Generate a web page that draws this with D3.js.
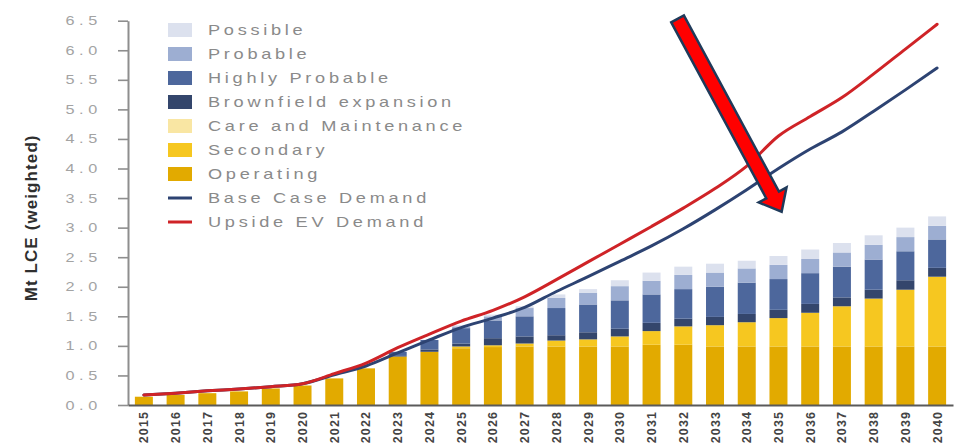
<!DOCTYPE html>
<html>
<head>
<meta charset="utf-8">
<script src="https://cdn.jsdelivr.net/npm/d3@7"></script>
<style>
  html, body { margin: 0; padding: 0; background: #ffffff; }
  svg { display: block; font-family: "Liberation Sans", Arial, sans-serif; }
</style>
</head>
<body>
<svg id="chart" width="961" height="446"></svg>
<script>
// Lithium supply pipeline vs demand, Mt LCE (weighted)
const years = ["2015","2016","2017","2018","2019","2020","2021","2022","2023","2024","2025","2026","2027",
               "2028","2029","2030","2031","2032","2033","2034","2035","2036","2037","2038","2039","2040"];

// supply segments, stacked bottom to top
const operating   = [0.14,0.17,0.20,0.23,0.28,0.33,0.45,0.62,0.82,0.90,0.96,0.98,0.99,0.99,0.99,0.99,1.02,1.02,0.99,0.99,0.99,0.99,0.99,0.99,0.99,0.99];
const secondary   = [0,0,0,0,0,0,0,0,0,0,0.03,0.03,0.05,0.10,0.12,0.17,0.23,0.31,0.36,0.41,0.48,0.57,0.68,0.81,0.96,1.18];
const careMaint   = [0,0,0,0,0,0,0,0,0,0,0,0,0,0,0,0,0,0,0,0,0,0,0,0,0,0];
const brownfield  = [0,0,0,0,0,0,0,0,0.01,0.04,0.05,0.12,0.12,0.09,0.12,0.13,0.14,0.13,0.14,0.14,0.14,0.15,0.15,0.15,0.16,0.15];
const highlyProb  = [0,0,0,0,0,0,0,0,0.07,0.16,0.26,0.30,0.34,0.46,0.47,0.48,0.48,0.50,0.51,0.53,0.52,0.52,0.52,0.51,0.49,0.48];
const probable    = [0,0,0,0,0,0,0,0,0,0,0.03,0.07,0.14,0.17,0.20,0.24,0.23,0.24,0.24,0.24,0.24,0.24,0.24,0.25,0.24,0.23];
const possible    = [0,0,0,0,0,0,0,0,0,0,0.02,0.03,0.03,0.06,0.06,0.10,0.14,0.14,0.15,0.13,0.15,0.16,0.16,0.16,0.16,0.16];

// demand scenarios
const baseDemand   = [0.17,0.20,0.24,0.27,0.31,0.36,0.51,0.66,0.88,1.10,1.31,1.47,1.65,1.92,2.17,2.43,2.69,2.98,3.30,3.64,4.00,4.33,4.62,4.97,5.33,5.70];
const upsideDemand = [0.17,0.20,0.24,0.27,0.31,0.36,0.53,0.71,0.97,1.20,1.42,1.60,1.83,2.12,2.42,2.72,3.02,3.33,3.66,4.04,4.55,4.88,5.20,5.60,6.02,6.44];

const yTicks = [0,0.5,1,1.5,2,2.5,3,3.5,4,4.5,5,5.5,6,6.5];

const seriesNames  = ["Operating","Secondary","Care and Maintenance","Brownfield expansion","Highly Probable","Probable","Possible"];
const seriesValues = [operating, secondary, careMaint, brownfield, highlyProb, probable, possible];
const seriesColors = ["#e2aa00","#f6c720","#f9e6a3","#34466c","#4d679c","#9daed2","#dce1ee"];

const lineNames  = ["Base Case Demand","Upside EV Demand"];
const lineValues = [baseDemand, upsideDemand];
const lineColors = ["#2d4372","#cf2327"];

// callout arrow: tail and tip in (year, Mt LCE)
const arrowTail = [2031.82, 6.53];
const arrowTip  = [2035.10, 3.27];

// ---------------------------------------------------------------
const svg = d3.select("#chart");
const plotLeft = 128, plotRight = 953, plotTop = 20.7, plotBottom = 405;

const x = d3.scaleBand().domain(years).range([plotLeft, plotRight]).paddingInner(0.433).paddingOuter(0.217);
const y = d3.scaleLinear().domain([0, 6.5]).range([plotBottom, plotTop]);
const bw = x.bandwidth();
const cx = d => x(d) + bw / 2;
const xYear = d3.scaleLinear().domain([+years[0], +years[years.length - 1]])
  .range([cx(years[0]), cx(years[years.length - 1])]);

// stacked bars
const rows = years.map((yr, i) => {
  const r = { year: yr };
  seriesNames.forEach((n, k) => r[n] = seriesValues[k][i]);
  return r;
});
const stacked = d3.stack().keys(seriesNames)(rows);

svg.append("g").selectAll("g")
  .data(stacked)
  .join("g")
  .attr("fill", (d, k) => seriesColors[k])
  .selectAll("rect")
  .data(d => d.filter(p => p[1] - p[0] > 0))
  .join("rect")
  .attr("x", p => x(p.data.year))
  .attr("width", bw)
  .attr("y", p => y(p[1]))
  .attr("height", p => y(p[0]) - y(p[1]));

// y axis
const yAxis = svg.append("g")
  .attr("transform", `translate(${plotLeft},0)`)
  .call(d3.axisLeft(y).tickValues(yTicks).tickFormat(d3.format(".1f")).tickSize(10).tickSizeOuter(0));
yAxis.select(".domain").attr("stroke", "#8e8e8e").attr("stroke-width", 2);
yAxis.selectAll(".tick line").attr("stroke", "#8e8e8e").attr("stroke-width", 1.6);
yAxis.selectAll(".tick text")
  .attr("x", 0)
  .attr("transform", "translate(-26,0) scale(1.3,1)")
  .attr("fill", "#a3a3a3")
  .style("font-size", "12.5px")
  .style("letter-spacing", "3.6px")
  .style("font-family", "'Liberation Sans', Arial, sans-serif");

// x axis
const xAxis = svg.append("g")
  .attr("transform", `translate(0,${plotBottom})`)
  .call(d3.axisBottom(x).tickSize(0).tickSizeOuter(0));
xAxis.select(".domain").attr("stroke", "#5a5a5a").attr("stroke-width", 2);
xAxis.selectAll(".tick text")
  .attr("transform", "rotate(-90)")
  .attr("x", -6)
  .attr("y", 0)
  .attr("dy", "0.36em")
  .attr("text-anchor", "end")
  .attr("fill", "#444444")
  .style("font-size", "12.5px")
  .style("font-weight", "bold")
  .style("letter-spacing", "1.1px")
  .style("font-family", "'Liberation Sans', Arial, sans-serif");

// demand lines
const line = d3.line().x((v, i) => cx(years[i])).y(v => y(v)).curve(d3.curveMonotoneX);
lineValues.forEach((vals, k) => {
  svg.append("path")
    .attr("d", line(vals))
    .attr("fill", "none")
    .attr("stroke", lineColors[k])
    .attr("stroke-width", 3)
    .attr("stroke-linecap", "round")
    .attr("stroke-linejoin", "round");
});

// y-axis title
svg.append("text")
  .attr("transform", `translate(37,${(plotTop + plotBottom) / 2 + 5}) rotate(-90)`)
  .attr("text-anchor", "middle")
  .attr("fill", "#2f2f2f")
  .style("font-size", "17px")
  .style("font-weight", "bold")
  .style("letter-spacing", "1.1px")
  .text("Mt LCE (weighted)");

// legend
const legendItems = [
  ...seriesNames.map((n, k) => ({ name: n, color: seriesColors[k], kind: "box" })).reverse(),
  ...lineNames.map((n, k) => ({ name: n, color: lineColors[k], kind: "line" }))
];
const legend = svg.append("g").attr("transform", "translate(168,30)");
legendItems.forEach((it, i) => {
  const g = legend.append("g").attr("transform", `translate(0,${i * 24})`);
  if (it.kind === "box") {
    g.append("rect").attr("x", 0).attr("y", -7).attr("width", 24).attr("height", 14).attr("fill", it.color);
  } else {
    g.append("rect").attr("x", 0).attr("y", -1.5).attr("width", 24).attr("height", 3).attr("fill", it.color);
  }
  g.append("text")
    .attr("transform", "translate(40,0) scale(1.3,1)")
    .attr("dy", "0.36em")
    .attr("fill", "#8a8a8a")
    .style("font-size", "14px")
    .style("letter-spacing", "2.85px")
    .text(it.name);
});

// callout arrow
(function drawArrow() {
  const p0 = [xYear(arrowTail[0]), y(arrowTail[1])];
  const p1 = [xYear(arrowTip[0]), y(arrowTip[1])];
  const dx = p1[0] - p0[0], dy = p1[1] - p0[1];
  const len = Math.hypot(dx, dy);
  const u = [dx / len, dy / len];
  const n = [-u[1], u[0]];
  const shaftHalf = 7.2, headHalf = 15.8, headLen = 19;
  const b = [p1[0] - u[0] * headLen, p1[1] - u[1] * headLen];
  const pt = (base, s) => [base[0] + n[0] * s, base[1] + n[1] * s];
  const pts = [pt(p0, shaftHalf), pt(b, shaftHalf), pt(b, headHalf), p1, pt(b, -headHalf), pt(b, -shaftHalf), pt(p0, -shaftHalf)];
  svg.append("polygon")
    .attr("points", pts.map(p => p.join(",")).join(" "))
    .attr("fill", "#ff0000")
    .attr("stroke", "#1f3a5a")
    .attr("stroke-width", 2.5)
    .attr("stroke-linejoin", "miter");
})();
</script>
</body>
</html>
